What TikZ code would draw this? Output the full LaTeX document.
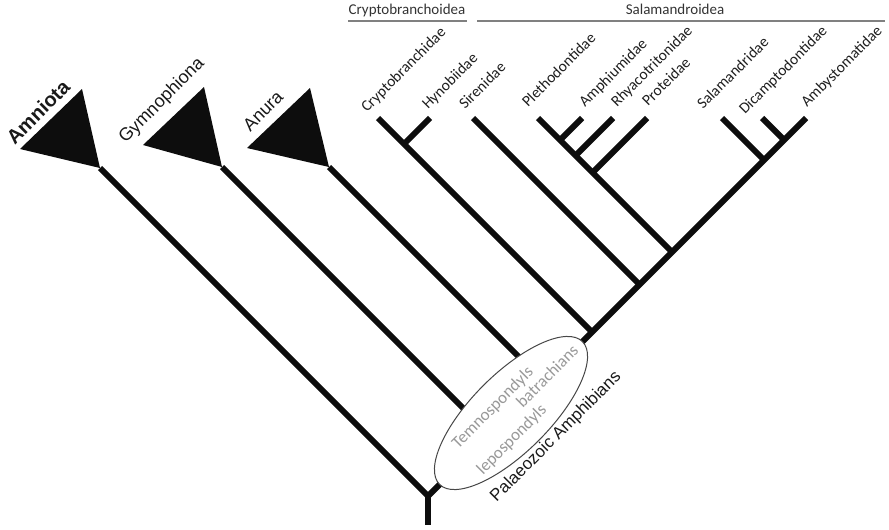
\documentclass[tikz,border=0pt]{standalone}
\usepackage{fontspec}
\setmainfont{Carlito}
\newfontfamily\arialfont{Liberation Sans}
\usetikzlibrary{shapes.geometric}
\begin{document}
\begin{tikzpicture}[x=1pt,y=-1pt,
  branch/.style={line width=6pt, draw=black!95, line join=miter},
  tri/.style={fill=black!95},
  taxon/.style={rotate=45, anchor=base west, inner sep=0pt,
    font=\fontsize{15.5}{18}\selectfont, text=black!88},
  clade/.style={rotate=45, anchor=center, inner sep=0pt,
    font=\arialfont\fontsize{18}{21}\selectfont, text=black!90},
  grouplabel/.style={anchor=base, inner sep=0pt,
    font=\fontsize{15}{18}\selectfont, text=black!80},
  groupline/.style={line width=2pt, draw=black!50},
  fossil/.style={rotate=45, anchor=center, inner sep=0pt,
    font=\fontsize{17}{20}\selectfont, text=black!40},
]
\useasboundingbox (0,0) rectangle (889,530);

% ---- branch points ----
\coordinate (root) at (428,496);
\coordinate (base) at (428,525);
\coordinate (amby) at (806,118);
% triangle (collapsed clade) corners
\coordinate (amL) at (20,149);  \coordinate (amT) at (82,89);  \coordinate (amR) at (100,168);
\coordinate (gyL) at (143,145); \coordinate (gyT) at (204,87); \coordinate (gyR) at (222,167);
\coordinate (anL) at (247,148); \coordinate (anT) at (310,88); \coordinate (anR) at (329,167);
% stems joining the main spine
\coordinate (gyJ) at (489.5,434.5);
\coordinate (anJ) at (543,381);
% Cryptobranchoidea
\coordinate (cryT) at (378,118);
\coordinate (cryJ) at (592,332);
\coordinate (hynT) at (430,118);
\coordinate (hynJ) at (404,144);
% Sirenidae
\coordinate (sirT) at (473,118);
\coordinate (sirJ) at (639.5,284.5);
% Plethodontid group
\coordinate (pleT) at (538,118);
\coordinate (pleJ) at (672,252);
\coordinate (ampT) at (582,118); \coordinate (ampJ) at (560,140);
\coordinate (rhyT) at (613,118); \coordinate (rhyJ) at (575.5,155.5);
\coordinate (proT) at (647,118); \coordinate (proJ) at (592.5,172.5);
% Salamandrid group
\coordinate (salT) at (722,118); \coordinate (salJ) at (764,160);
\coordinate (dicT) at (762,118); \coordinate (dicJ) at (784,140);

% ---- collapsed clades ----
\fill[tri] (amL) -- (amT) -- (amR) -- cycle;
\fill[tri] (gyL) -- (gyT) -- (gyR) -- cycle;
\fill[tri] (anL) -- (anT) -- (anR) -- cycle;

% ---- branches ----
\draw[branch] (amR) -- (root) -- (amby);
\draw[branch] (root) -- (base);
\draw[branch] (gyR) -- (gyJ);
\draw[branch] (anR) -- (anJ);
\draw[branch] (cryT) -- (cryJ);
\draw[branch] (hynT) -- (hynJ);
\draw[branch] (sirT) -- (sirJ);
\draw[branch] (pleT) -- (pleJ);
\draw[branch] (ampT) -- (ampJ);
\draw[branch] (rhyT) -- (rhyJ);
\draw[branch] (proT) -- (proJ);
\draw[branch] (salT) -- (salJ);
\draw[branch] (dicT) -- (dicJ);

% ---- fossil stem groups ----
\node[draw=black!72, line width=1pt, fill=white, ellipse, inner sep=0pt,
      minimum width=202pt, minimum height=78pt, rotate=45] (fossils) at (511,413) {};
\node[fossil] (temno) at (493,408) {Temnospondyls};
\node[fossil] (batra) at (547,376) {batrachians};
\node[fossil] (lepo) at (512,440) {lepospondyls};
\node[clade, font=\arialfont\fontsize{17}{20}\selectfont] (palaeo) at (556,437) {Palaeozoic Amphibians};

% ---- clade labels ----
\node[clade, font=\arialfont\bfseries\fontsize{20}{23}\selectfont] (amniota) at (38,112) {Amniota};
\node[clade] (gymno) at (162,101) {Gymnophiona};
\node[clade] (anura) at (263,111) {Anura};

% ---- family labels ----
\node[taxon] (lcry) at (367,113) {Cryptobranchidae};
\node[taxon] (lhyn) at (428,110) {Hynobiidae};
\node[taxon] (lsir) at (465,110) {Sirenidae};
\node[taxon] (lple) at (528,108) {Plethodontidae};
\node[taxon] (lamp) at (585,108) {Amphiumidae};
\node[taxon] (lrhy) at (617,108) {Rhyacotritonidae};
\node[taxon] (lpro) at (648,107) {Proteidae};
\node[taxon] (lsal) at (703,110) {Salamandridae};
\node[taxon] (ldic) at (745,115) {Dicamptodontidae};
\node[taxon] (lamb) at (807,108) {Ambystomatidae};

% ---- superfamily brackets ----
\coordinate (cbL) at (348,20.5); \coordinate (cbR) at (467,20.5);
\coordinate (sdL) at (477,20.5); \coordinate (sdR) at (885,20.5);
\draw[groupline] (cbL) -- (cbR);
\draw[groupline] (sdL) -- (sdR);
\node[grouplabel] (hcry) at (407,14) {Cryptobranchoidea};
\node[grouplabel] (hsal) at (675,14) {Salamandroidea};
\end{tikzpicture}
\end{document}
